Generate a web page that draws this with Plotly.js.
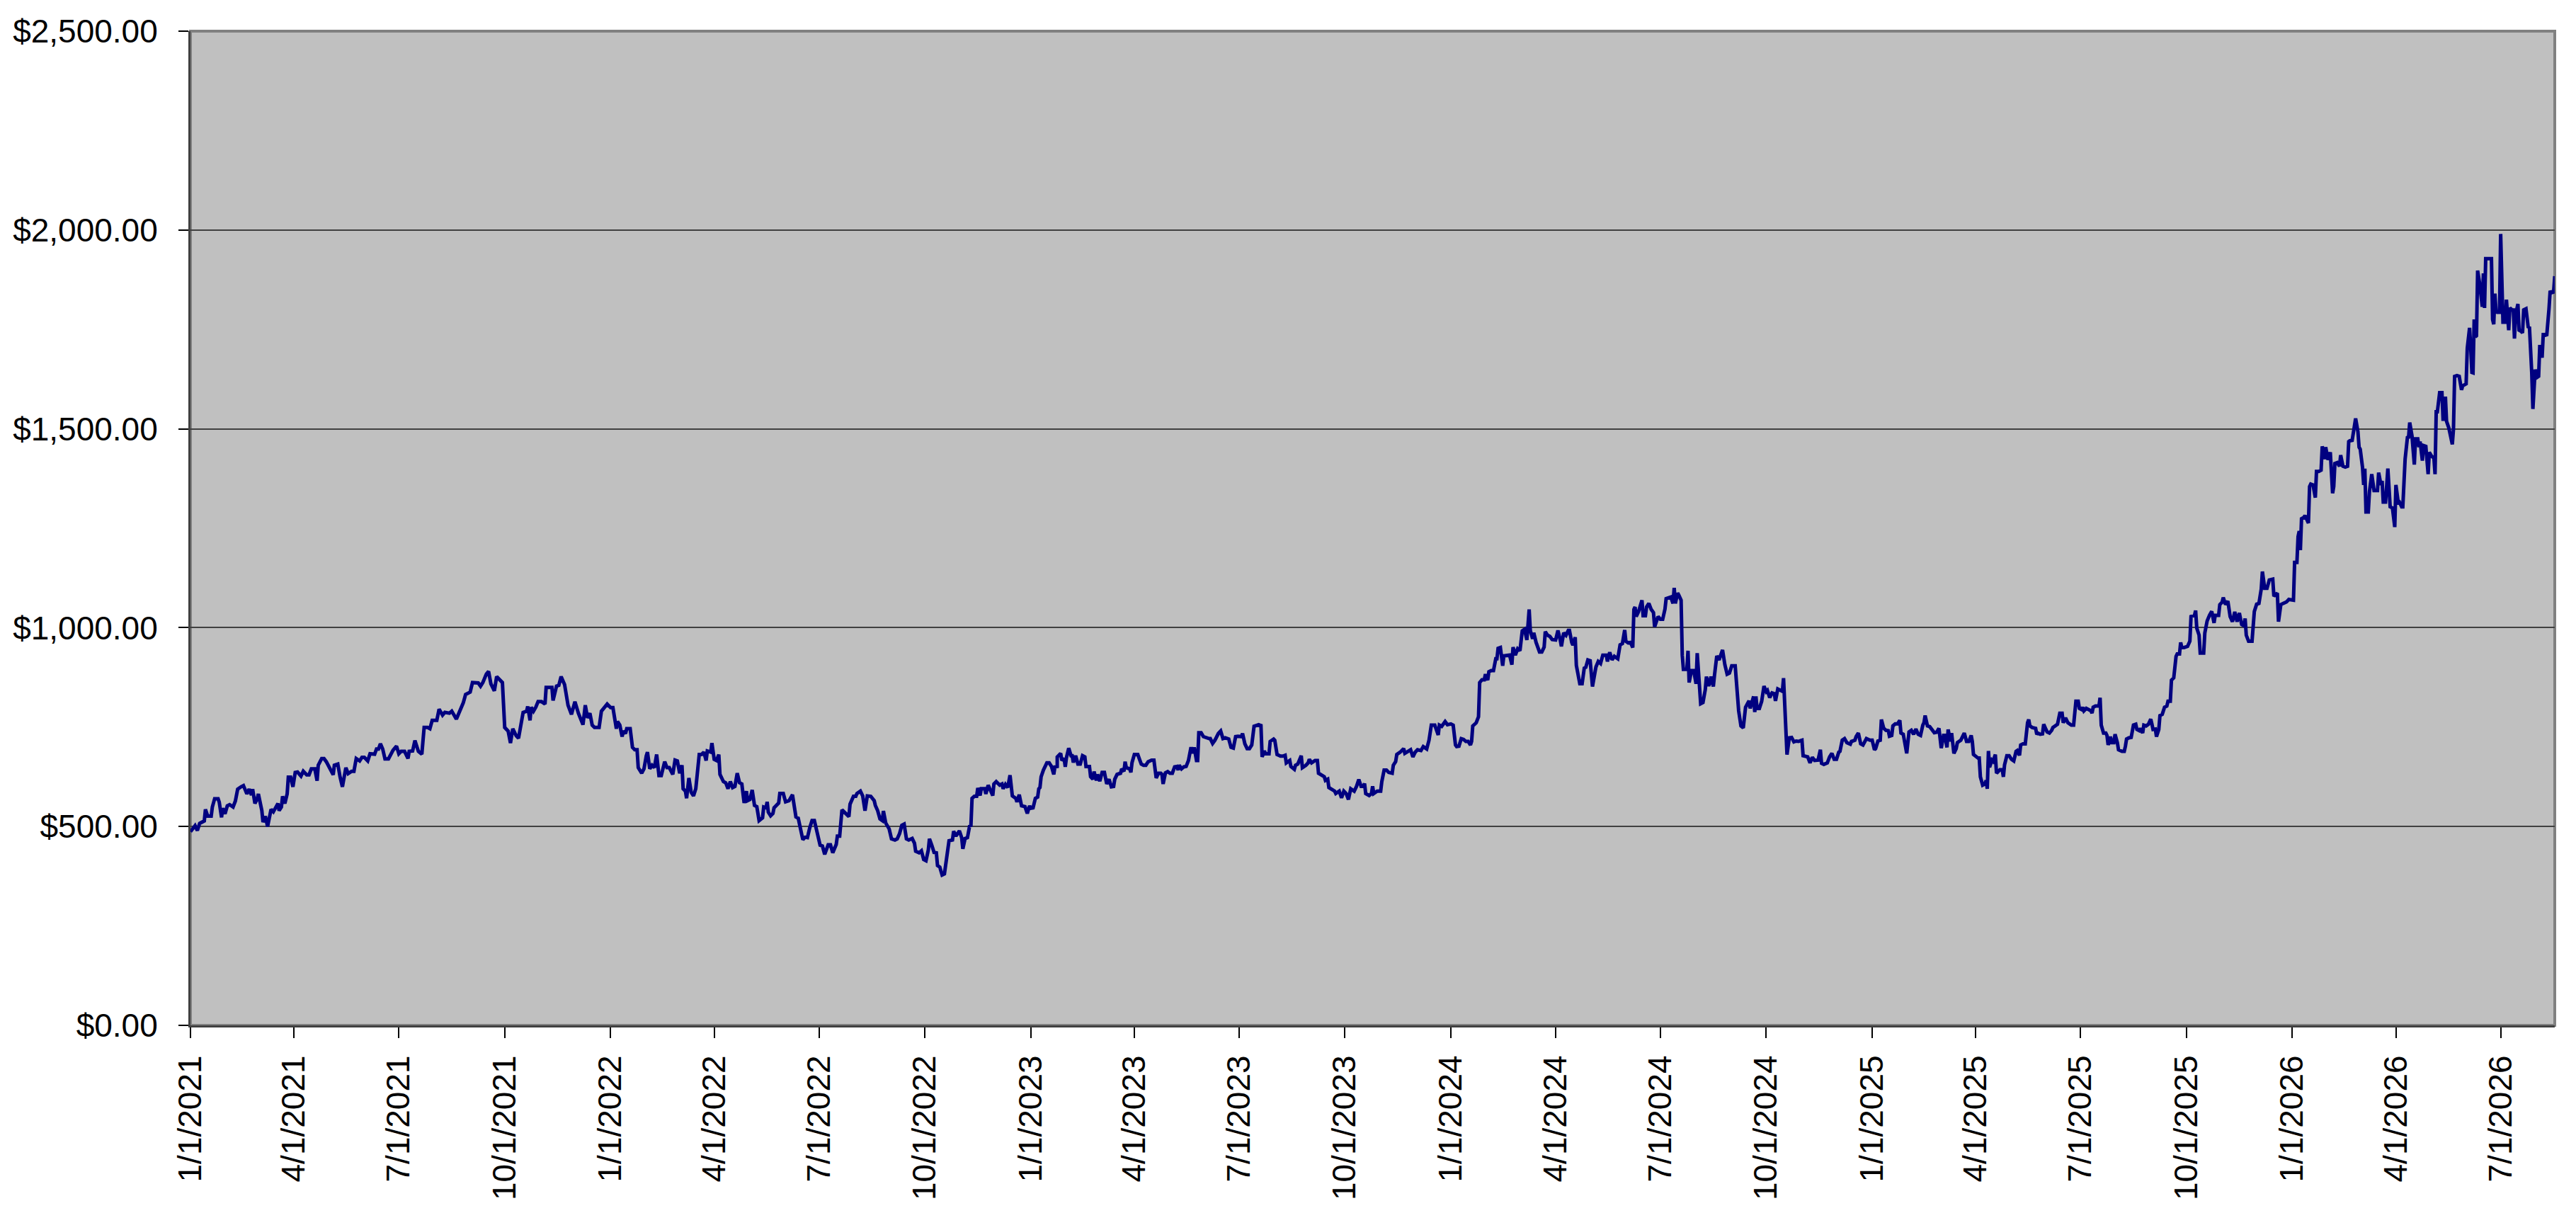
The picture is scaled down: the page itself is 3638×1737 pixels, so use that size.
<!DOCTYPE html>
<html>
<head>
<meta charset="utf-8">
<script src="https://cdn.plot.ly/plotly-3.0.1.min.js"></script>
<style>
  html, body { margin: 0; padding: 0; background: #ffffff; }
  #chart { width: 3638px; height: 1737px; }
</style>
</head>
<body>
<div id="chart"></div>
<script>
// day-of-year offsets and closing values
var days2021 = [0,4,6,8,12,13,15,18,19,21,24,25,27,28,30,32,34,37,39,41,44,46,49,51,53,54,56,58,59,62,63,65,67,69,70,72,76,77,79,80,82,84,85,87,89,91,93,96,98,101,103,105,108,110,111,114,116,118,121,124,125,128,130,132,135,137,140,142,144,147,149,151,154,156,160,162,163,165,167,169,172,174,176,179,181,183,186,189,190,193,195,198,201,203,206,208,210,214,216,219,221,225,227,231,234,237,239,243,245,250,252,254,257,259,261,264,266,269,271,273,276,278,280,283,285,289,292,293,295,296,298,300,302,305,308,309,311,314,315,318,320,322,325,328,331,332,334,337,339,341,343,345,347,349,351,355,357,360,362];
var vals2021 = [487,502,490,508,514,543,526,526,549,570,570,561,523,546,532,552,555,549,564,594,600,603,582,594,579,594,558,570,582,540,511,526,500,535,543,537,558,540,549,576,558,582,624,624,600,636,637,627,639,630,630,645,645,615,654,671,671,663,645,630,654,657,624,600,648,633,639,639,671,665,674,674,665,683,682,698,692,708,695,670,670,683,692,702,683,689,689,671,689,690,716,689,682,749,749,746,767,767,795,780,787,785,790,770,790,811,832,838,862,861,853,862,883,890,859,841,877,868,862,749,740,710,746,728,722,787,790,802,767,800,790,800,814,814,808,850,850,850,817,853,855,877,857,805,782,796,814,785,773,756,805,773,785,755,749,749,790,802,808];

var days2022 = [0,2,5,6,8,10,11,13,14,17,19,21,23,24,27,29,31,32,34,36,38,40,42,44,47,49,51,54,56,58,60,62,63,65,66,68,70,72,74,76,77,79,81,83,84,87,88,90,92,94,95,98,100,102,104,106,108,110,112,114,116,118,119,121,123,125,127,129,132,133,135,136,137,139,141,142,146,147,150,152,155,158,161,163,165,167,169,171,173,175,177,179,182,184,186,189,191,193,196,197,199,201,204,207,208,211,213,214,217,219,221,223,226,229,230,232,234,236,237,239,242,244,247,249,251,253,255,257,259,262,264,265,268,270,272,274,276,277,279,281,283,284,286,288,290,291,293,294,297,298,300,303,305,306,308,310,312,313,314,316,318,319,321,322,325,326,328,330,332,333,335,338,340,341,343,345,347,349,352,353,355,357,359,360,362,364];
var vals2022 = [799,799,746,764,755,726,740,734,746,746,699,693,693,648,634,645,678,687,645,654,648,681,628,628,663,648,648,631,667,665,634,654,595,589,571,622,586,577,595,651,681,681,687,666,690,687,710,669,666,681,631,613,610,595,613,598,601,634,610,607,559,589,565,568,592,553,550,515,522,549,547,562,536,527,533,547,559,583,583,562,565,580,524,521,491,467,473,472,497,515,515,488,453,451,430,454,454,434,455,476,476,542,534,525,556,576,576,583,589,577,540,577,576,565,553,540,519,515,539,509,494,469,466,469,482,503,506,469,466,470,458,438,434,439,417,414,441,469,453,435,434,402,398,378,381,399,435,464,466,488,476,489,472,444,470,472,503,500,571,576,576,597,578,595,595,582,604,592,578,607,613,604,607,595,606,598,629,577,571,562,580,552,552,550,533,552];

var days2023 = [0,2,4,6,7,8,9,11,14,16,18,20,21,23,23,25,26,27,29,30,31,33,35,36,37,39,41,43,45,47,48,51,52,54,55,57,58,60,62,64,66,68,70,72,73,75,78,79,81,82,83,86,87,88,90,93,94,96,98,100,102,105,107,108,109,111,113,114,115,117,119,121,123,125,127,128,129,131,133,135,137,139,140,141,142,144,145,146,148,150,152,155,156,158,160,163,165,167,169,172,174,176,178,180,183,184,186,188,190,192,194,196,198,200,201,203,204,207,208,211,212,214,217,219,221,222,225,226,229,230,232,235,236,239,241,242,244,247,249,250,253,255,256,258,259,261,264,265,268,270,272,274,276,278,281,283,285,287,289,290,291,294,296,297,298,301,304,305,307,309,311,314,315,317,318,321,324,325,328,330,332,334,336,339,341,344,346,348,351,353,354,355,357,360,362];
var vals2023 = [546,547,571,574,595,598,625,642,660,660,651,631,650,651,675,681,684,666,671,650,673,697,678,678,661,678,657,657,678,675,651,651,625,619,638,616,631,614,636,636,607,619,600,601,619,631,634,645,639,663,648,645,636,661,681,681,672,657,654,654,663,667,667,636,622,634,634,631,607,635,638,634,634,650,651,642,654,645,650,651,666,696,696,684,699,666,666,736,736,726,723,721,721,709,717,734,740,721,723,720,699,697,726,727,726,734,708,696,696,705,752,755,756,754,675,690,683,683,714,720,717,681,677,677,679,660,666,651,644,654,657,678,648,654,660,669,660,666,666,634,628,625,616,619,598,595,589,583,589,572,589,583,568,595,589,601,618,601,601,608,583,578,583,601,583,589,589,613,642,642,636,634,654,663,681,687,696,684,691,693,675,687,693,691,701,695,717,755,755,740,730,755,752,764,756];

var days2024 = [0,2,4,5,7,9,11,13,15,17,18,19,21,22,24,25,27,29,30,32,33,35,37,38,39,40,41,43,45,46,49,51,53,54,56,58,60,62,64,66,68,69,71,72,74,77,79,81,82,84,86,88,91,93,95,96,98,100,102,103,105,106,108,109,112,114,116,117,119,121,123,126,128,130,132,135,136,138,140,142,145,147,149,151,152,154,156,158,159,160,161,163,166,167,169,170,172,174,176,177,180,182,184,186,187,190,191,193,194,195,197,198,200,201,202,205,206,207,209,211,213,214,217,219,221,222,224,226,228,229,231,233,235,236,238,240,242,244,247,249,250,252,254,256,259,260,263,264,265,266,268,270,272,274,275,277,279,281,282,284,286,288,289,291,292,294,296,298,300,302,305,306,309,310,312,314,316,319,321,322,324,327,329,331,333,335,337,338,340,342,344,347,348,351,352,354,356,358,361,364];
var vals2024 = [758,755,705,701,702,721,719,714,714,705,714,753,758,761,776,862,869,869,883,868,889,892,892,904,922,922,948,950,904,929,931,931,907,951,931,947,942,992,996,969,1046,993,972,987,963,939,939,951,990,981,978,970,969,993,969,953,987,981,993,993,963,956,976,905,859,859,901,898,919,917,852,901,915,910,931,931,915,938,919,928,922,957,960,994,966,962,963,950,1046,1052,1028,1040,1069,1030,1030,1052,1061,1046,1038,1002,1028,1021,1021,1047,1073,1076,1077,1061,1100,1061,1087,1082,1069,931,895,895,942,862,892,892,859,936,809,812,844,877,853,877,852,880,929,919,934,944,907,883,886,904,904,821,791,753,748,800,816,797,827,788,827,797,797,815,853,839,842,824,836,834,816,846,842,840,873,729,681,723,724,713,715,714,717,678,675,675,660,674,666,667,693,659,656,660,675,684,669,669,687,689,717,721,711,707,714,717,726,735,708,705,721,717];

var days2025 = [0,2,3,5,7,8,10,12,14,15,17,18,20,22,24,25,27,29,30,32,34,36,38,40,42,44,45,46,48,50,52,54,56,58,60,62,63,65,66,68,69,71,73,74,77,79,80,82,84,86,87,88,90,92,93,94,96,98,99,100,101,102,104,105,107,108,111,113,114,115,117,119,121,123,125,126,128,129,131,133,135,136,137,139,142,143,144,146,148,149,151,152,154,156,157,159,161,163,165,166,168,170,172,173,175,176,177,179,180,182,183,184,186,188,190,191,192,194,197,198,199,201,203,204,205,207,208,210,211,213,214,217,219,220,221,223,225,227,229,230,232,233,235,236,238,240,242,243,244,246,247,249,250,252,254,256,257,259,260,262,264,265,267,268,269,271,274,276,277,280,281,282,284,285,288,289,291,293,295,297,298,301,302,304,305,307,309,311,313,315,317,319,321,323,324,325,327,330,331,332,334,336,338,339,341,343,345,348,349,352,353,355,357,360,362];
var vals2025 = [717,693,696,715,717,769,747,742,741,727,729,753,758,758,767,735,732,690,684,738,742,732,745,732,729,755,761,779,753,751,744,736,737,747,697,729,729,699,744,714,735,684,696,711,717,733,735,714,714,729,714,681,675,672,672,625,604,607,616,595,690,649,667,664,681,634,643,643,625,655,678,678,669,665,689,691,679,705,708,708,761,769,753,749,747,732,735,732,733,757,744,738,735,742,749,753,757,785,785,761,773,761,755,755,755,791,815,815,797,794,800,791,797,794,791,785,800,803,803,824,755,735,735,729,705,726,711,711,732,711,693,689,689,702,720,723,724,755,757,744,741,747,735,755,753,757,770,758,744,745,726,744,779,782,800,803,815,815,868,874,928,934,934,963,950,950,953,966,1028,1031,1043,999,981,936,936,987,1017,1031,1041,1012,1031,1031,1058,1064,1076,1058,1067,1028,1015,1040,1015,1037,1008,1005,1023,981,966,966,996,1041,1059,1061,1097,1141,1099,1099,1120,1122,1079,1087,1015,1058,1061,1065,1071];

var days2026 = [1,2,4,5,6,7,8,10,11,14,15,16,18,20,21,23,25,26,28,29,31,33,35,36,37,39,41,42,44,46,48,49,50,52,53,55,57,58,59,61,62,63,64,66,67,69,71,72,74,75,77,78,79,81,82,83,85,87,89,90,92,93,95,96,98,100,101,102,104,106,107,109,110,111,113,114,116,118,119,121,123,124,125,126,128,130,131,133,134,136,139,140,141,143,145,147,148,150,151,152,154,155,156,157,158,159,160,161,163,165,166,167,168,170,173,174,175,176,177,178,180,181,182,183,185,186,188,189,191,192,193,194,196,197,199,200,201,203,205,206,208,209,211,213,214,215,217,218,220,221,223,224,225,227,228];
var vals2026 = [1069,1164,1164,1229,1243,1195,1274,1277,1282,1263,1355,1361,1359,1327,1393,1393,1396,1456,1424,1454,1422,1441,1338,1355,1413,1415,1406,1434,1406,1404,1406,1468,1470,1471,1486,1526,1493,1454,1449,1403,1359,1400,1291,1291,1342,1386,1345,1345,1345,1390,1359,1369,1316,1316,1361,1400,1304,1301,1253,1359,1315,1316,1304,1304,1424,1478,1479,1516,1482,1410,1475,1475,1454,1468,1420,1458,1456,1386,1441,1431,1427,1386,1543,1543,1591,1591,1520,1581,1519,1502,1461,1499,1632,1634,1632,1598,1608,1613,1613,1703,1754,1703,1642,1641,1775,1731,1734,1898,1860,1807,1891,1804,1928,1928,1928,1775,1763,1840,1795,1793,1793,1990,1830,1768,1768,1825,1748,1804,1799,1799,1727,1787,1814,1748,1745,1741,1799,1802,1754,1757,1641,1550,1649,1630,1632,1711,1679,1737,1737,1734,1802,1847,1842,1844,1884];

var tickDates = ['2021-01-01','2021-04-01','2021-07-01','2021-10-01','2022-01-01','2022-04-01','2022-07-01','2022-10-01',
  '2023-01-01','2023-04-01','2023-07-01','2023-10-01','2024-01-01','2024-04-01','2024-07-01','2024-10-01',
  '2025-01-01','2025-04-01','2025-07-01','2025-10-01','2026-01-01','2026-04-01','2026-07-01'];
var tickLabels = ['1/1/2021','4/1/2021','7/1/2021','10/1/2021','1/1/2022','4/1/2022','7/1/2022','10/1/2022',
  '1/1/2023','4/1/2023','7/1/2023','10/1/2023','1/1/2024','4/1/2024','7/1/2024','10/1/2024',
  '1/1/2025','4/1/2025','7/1/2025','10/1/2025','1/1/2026','4/1/2026','7/1/2026'];

function dayToDate(year, d) {
  return new Date(Date.UTC(year, 0, 1 + d)).toISOString().slice(0, 10);
}

var years = [
  [2021, days2021, vals2021], [2022, days2022, vals2022], [2023, days2023, vals2023],
  [2024, days2024, vals2024], [2025, days2025, vals2025], [2026, days2026, vals2026]
];

var x = [];
var y = [];
for (var i = 0; i < years.length; i++) {
  var yr = years[i][0], ds = years[i][1], vs = years[i][2];
  var n = Math.min(ds.length, vs.length);
  for (var j = 0; j < n; j++) {
    x.push(dayToDate(yr, ds[j]));
    y.push(vs[j]);
  }
}

var trace = {
  x: x,
  y: y,
  type: 'scatter',
  mode: 'lines',
  line: { color: '#000080', width: 5 },
  hoverinfo: 'skip'
};

var layout = {
  width: 3638,
  height: 1737,
  margin: { l: 269, r: 30, t: 44, b: 289 },
  paper_bgcolor: '#ffffff',
  plot_bgcolor: '#c0c0c0',
  showlegend: false,
  font: { family: 'Liberation Sans, Arial, sans-serif', size: 46, color: '#000000' },
  xaxis: {
    type: 'date',
    range: ['2021-01-01', x[x.length - 1]],
    tickmode: 'array',
    tickvals: tickDates,
    ticktext: tickLabels,
    tickangle: -90,
    ticks: 'outside',
    ticklen: 15,
    tickwidth: 2,
    tickcolor: '#000000',
    showgrid: false,
    showline: true,
    linecolor: '#404040',
    linewidth: 3,
    zeroline: false,
    ticklabelstandoff: 6,
    tickfont: { size: 46 }
  },
  yaxis: {
    range: [0, 2500],
    dtick: 500,
    tick0: 0,
    tickprefix: '$',
    tickformat: ',.2f',
    ticks: 'outside',
    ticklen: 14,
    tickwidth: 2,
    tickcolor: '#000000',
    showgrid: true,
    gridcolor: '#404040',
    gridwidth: 2,
    showline: true,
    linecolor: '#404040',
    linewidth: 3,
    zeroline: false,
    ticklabelstandoff: 20,
    tickfont: { size: 46 }
  },
  shapes: [{
    type: 'rect', xref: 'paper', yref: 'paper', x0: 0, x1: 1, y0: 0, y1: 1,
    line: { color: '#808080', width: 4 }, layer: 'between'
  }]
};

Plotly.newPlot('chart', [trace], layout, { displayModeBar: false, staticPlot: true });
</script>
</body>
</html>
